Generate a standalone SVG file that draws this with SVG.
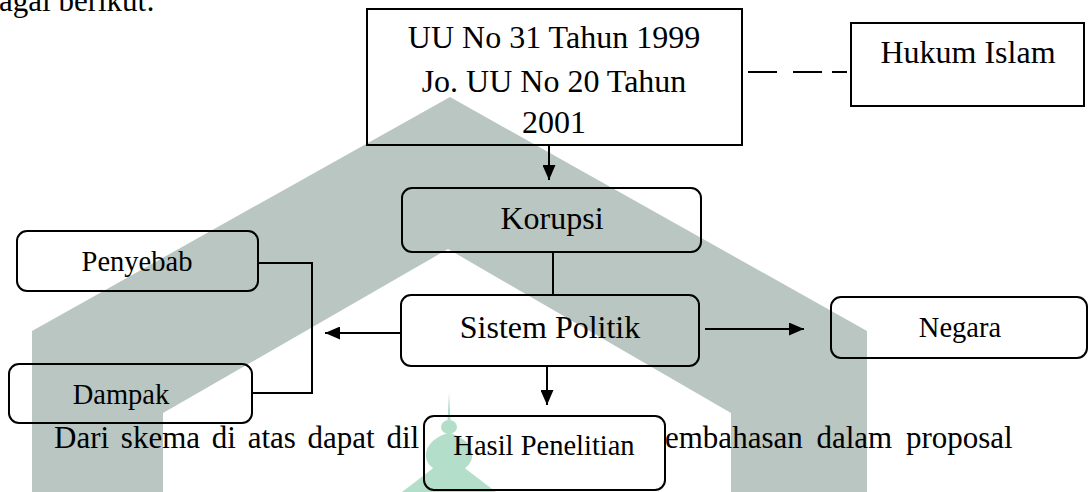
<svg xmlns="http://www.w3.org/2000/svg" width="1089" height="492" viewBox="0 0 1089 492">
<defs>
<marker id="arrow" viewBox="0 0 15 13" refX="15" refY="6.5" markerWidth="15" markerHeight="13" markerUnits="userSpaceOnUse" orient="auto">
<path d="M0,0 L15,6.5 L0,13 Z" fill="#000"/>
</marker>
</defs>
<style>
.t{font-family:"Liberation Serif","Times New Roman",serif;fill:#000;}
.big{font-size:32px;text-anchor:middle;}
.small{font-size:28.5px;text-anchor:middle;}
.para{font-size:31px;}
.box{fill:none;stroke:#000;stroke-width:2;}
.ln{fill:none;stroke:#000;stroke-width:2;}
.arr{marker-end:url(#arrow);}
</style>
<rect x="0" y="0" width="1089" height="492" fill="#fff"/>
<g id="watermark">
<polygon points="32,492 32,331 450,97 867,331 867,492 731,492 731,413 448,249 163,413 163,492" fill="#b9c6c1"/>
<g id="logo" fill="#b3dec9">
<polygon points="447.5,421 449,392 450.5,421"/>
<ellipse cx="449" cy="427" rx="8" ry="7"/>
<path d="M449 433 C 427 438, 418 458, 434 469 L 464 469 C 480 458, 471 438, 449 433 Z"/>
<polygon points="436,466 462,466 496,492 402,492"/>
</g>
</g>
<g id="paragraph">
<text class="t para" x="-1" y="11">agai berikut:</text>
<text class="t para" x="54" y="448" word-spacing="4">Dari skema di atas dapat dil</text>
<text class="t para" x="665" y="448" word-spacing="6">embahasan dalam proposal</text>
</g>
<g id="connectors">
<path class="ln" d="M748 72 H777 M793 72 H822 M832 72 H847"/>
<path class="ln arr" d="M549 145 V180"/>
<path class="ln" d="M553 252 V295"/>
<path class="ln arr" d="M547 366 V405"/>
<path class="ln arr" d="M401 333 H325"/>
<path class="ln arr" d="M705 329 H804"/>
<path class="ln" d="M258 263 H312 V393 H252"/>
</g>
<g id="node-uu">
<rect class="box" x="367" y="9" width="375" height="136"/>
<text class="t big" x="554" y="48">UU No 31 Tahun 1999</text>
<text class="t big" x="554" y="92">Jo. UU No 20 Tahun</text>
<text class="t big" x="554" y="133">2001</text>
</g>
<g id="node-hukum-islam">
<rect class="box" x="851" y="23" width="233" height="83"/>
<text class="t big" x="968" y="63">Hukum Islam</text>
</g>
<g id="node-korupsi">
<rect class="box" x="402" y="188" width="299" height="64" rx="10"/>
<text class="t big" x="552" y="229">Korupsi</text>
</g>
<g id="node-sistem-politik">
<rect class="box" x="401" y="295" width="298" height="71" rx="10"/>
<text class="t big" x="550" y="338">Sistem Politik</text>
</g>
<g id="node-hasil">
<rect class="box" x="424" y="416" width="241" height="74" rx="10"/>
<text class="t small" x="544" y="455">Hasil Penelitian</text>
</g>
<g id="node-penyebab">
<rect class="box" x="17" y="231" width="241" height="60" rx="10"/>
<text class="t small" x="137" y="271">Penyebab</text>
</g>
<g id="node-dampak">
<rect class="box" x="9" y="364" width="243" height="59" rx="10"/>
<text class="t small" x="121" y="404">Dampak</text>
</g>
<g id="node-negara">
<rect class="box" x="831" y="297" width="256" height="61" rx="10"/>
<text class="t small" x="960" y="337">Negara</text>
</g>
</svg>
